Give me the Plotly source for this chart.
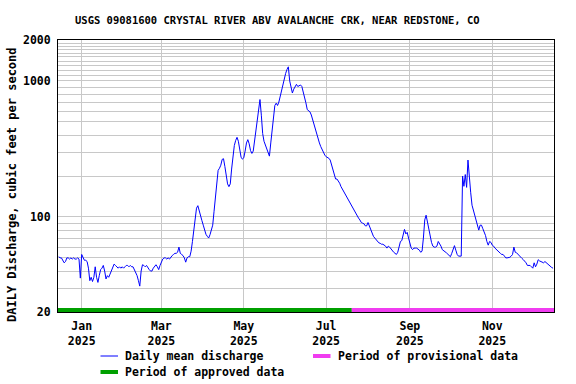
import plotly.graph_objects as go
import pandas as pd

# ---------------- data ----------------
start_date = "2024-12-15"
discharge_cfs = [
    51, 50, 50, 48, 46, 47, 50, 50, 49, 50, 49, 50, 49, 49, 50, 49, 35.5, 53, 50, 48,
    48, 47, 42, 34, 36, 33.5, 36, 43, 36, 33, 37, 41, 42, 44, 40, 35, 37, 36, 38, 40,
    43, 45, 44, 43, 42, 43, 42, 43, 42, 43, 44, 44, 43, 44, 43, 43, 41, 38, 37, 34,
    31, 40, 44.5, 44, 43, 44, 42, 41, 40, 40, 42, 43, 44.5, 43, 41, 44, 47, 49, 50, 50,
    49, 50, 49, 51, 52, 53, 54, 54, 55, 60, 54, 53, 52, 50, 46.5, 50, 51, 51, 56, 66,
    80, 93, 116, 121, 110, 99, 94, 87, 80, 74.5, 72, 70, 74, 80, 87, 110, 136, 187, 220, 228,
    240, 265, 268, 235, 200, 175, 167, 175, 225, 285, 335, 365, 385, 360, 300, 275, 266, 272, 305, 350,
    370, 345, 308, 293, 305, 362, 434, 503, 629, 730, 560, 410, 360, 338, 315, 300, 280, 350, 420, 530,
    660, 686, 660, 700, 780, 855, 950, 1070, 1135, 1215, 1270, 1000, 880, 815, 870, 905, 944, 910, 920, 934,
    910, 840, 750, 690, 615, 602, 593, 562, 517, 474, 434, 406, 378, 350, 329, 311, 293, 285, 277, 273,
    270, 262, 240, 220, 198, 190, 190, 185, 177, 167, 160, 154, 147, 141, 136, 131, 125, 120, 115, 110,
    106, 102, 98, 95, 91, 90, 89, 86, 86, 91, 85, 80, 77, 72, 70, 68, 66, 64.5, 64, 63,
    63, 62, 61, 59, 61, 60, 58, 57, 55, 54, 53, 55, 60, 66, 67, 76, 81, 75, 77, 70,
    63, 59, 57.5, 59, 59, 59, 58, 57, 55, 56, 70, 95, 103, 92, 78, 71, 65, 61, 60, 60,
    61, 66, 64, 61, 57.5, 56, 55.5, 54.5, 53, 51.5, 51, 54, 59, 61.5, 57, 53, 51.5, 51.5, 51.5, 200,
    168, 205, 165, 262, 181, 152, 122, 112, 103, 92, 85, 80, 87, 87, 82, 77, 73, 66, 62, 66,
    65, 62, 61, 59, 57.5, 56, 55.5, 54, 53, 53, 51.5, 50, 50, 50, 50.5, 51.5, 53, 60, 55, 54.5,
    53, 51.5, 50, 49.5, 48.5, 47.5, 46, 44, 44, 44, 43, 42, 46, 43, 45, 48.5, 47.5, 47, 46, 46,
    47, 46, 45.5, 44, 43, 42.5, 42,
]
dates = pd.date_range(start_date, periods=len(discharge_cfs), freq="D")

axis_start = "2024-12-14 10:48"
axis_end = "2025-12-16 16:48"
approved_end = "2025-07-20"

x_tick_dates = ["2025-01-01", "2025-03-01", "2025-05-01", "2025-07-01", "2025-09-01", "2025-11-01"]
x_tick_labels = ["Jan<br>2025", "Mar<br>2025", "May<br>2025", "Jul<br>2025", "Sep<br>2025", "Nov<br>2025"]

y_grid_values = [20, 30, 40, 50, 60, 70, 80, 90,
                 100, 200, 300, 400, 500, 600, 700, 800, 900,
                 1000, 1100, 1200, 1300, 1400, 1500, 1600, 1700, 1800, 1900, 2000]
y_labelled = {20: "20", 100: "100", 1000: "1000", 2000: "2000"}

title_text = "USGS 09081600 CRYSTAL RIVER ABV AVALANCHE CRK, NEAR REDSTONE, CO"
y_title = "DAILY Discharge, cubic feet per second"
legend_items = ["Daily mean discharge", "Period of provisional data", "Period of approved data"]

# ---------------- style ----------------
FONT = "DejaVu Sans Mono"
FS = 11.5
BLUE = "#0000ff"
GREEN = "#00a000"
MAGENTA = "#f03cf0"
GRID = "#c8c8c8"

W, H = 576, 384
ML, MR, MT, MB = 58, 22, 40, 72
PW, PH = W - ML - MR, H - MT - MB

fig = go.Figure()
fig.add_trace(go.Scatter(x=dates, y=discharge_cfs, mode="lines",
                         line=dict(color=BLUE, width=1), showlegend=False,
                         name=legend_items[0]))

# approval status bars along the bottom
bar_h = 4 / PH
fig.add_shape(type="rect", xref="x", yref="paper", x0=axis_start, x1=approved_end,
              y0=0, y1=bar_h, fillcolor=GREEN, line_width=0, layer="above")
fig.add_shape(type="rect", xref="x", yref="paper", x0=approved_end, x1=axis_end,
              y0=0, y1=bar_h, fillcolor=MAGENTA, line_width=0, layer="above")


def b(t):
    return "<b>" + t + "</b>"


def px_x(px):
    return (px - ML) / PW


def px_y(py):
    return 1 - (py - MT) / PH


fig.update_layout(
    width=W, height=H,
    margin=dict(l=ML, r=MR, t=MT, b=MB),
    paper_bgcolor="white", plot_bgcolor="white",
    font=dict(family=FONT, size=FS, color="black"),
    showlegend=False,
)

fig.update_xaxes(
    range=[axis_start, axis_end], type="date",
    tickvals=x_tick_dates, ticktext=[b(t) for t in x_tick_labels],
    showgrid=True, gridcolor=GRID, gridwidth=1,
    showline=True, linecolor="black", linewidth=1, mirror=True,
    ticks="", ticklabelstandoff=3, tickfont=dict(family=FONT, size=FS), zeroline=False,
)
fig.update_yaxes(
    type="log", range=[1.30103, 3.30103],
    tickvals=y_grid_values,
    ticktext=[b(y_labelled[v]) if v in y_labelled else "" for v in y_grid_values],
    showgrid=True, gridcolor=GRID, gridwidth=1,
    showline=True, linecolor="black", linewidth=1, mirror=True,
    ticks="", ticklabelstandoff=4, tickfont=dict(family=FONT, size=FS), zeroline=False,
)

# title
fig.add_annotation(text=b(title_text), xref="paper", yref="paper",
                   x=px_x(277), y=px_y(20), xanchor="center", yanchor="middle",
                   showarrow=False, font=dict(family=FONT, size=10.5))

# y-axis title
fig.add_annotation(text=b(y_title), xref="paper", yref="paper",
                   x=px_x(12), y=px_y(185),
                   xanchor="center", yanchor="middle", textangle=-90, showarrow=False,
                   font=dict(family=FONT, size=12))

# legend (drawn manually)
legend_rows = [
    (legend_items[0], BLUE, 1, 100.5, 356),
    (legend_items[1], MAGENTA, 4, 313, 356),
    (legend_items[2], GREEN, 4, 100.5, 372),
]
for label, color, lw, x0, y0 in legend_rows:
    fig.add_shape(type="line", xref="paper", yref="paper",
                  x0=px_x(x0), x1=px_x(x0 + 17.5), y0=px_y(y0), y1=px_y(y0),
                  line=dict(color=color, width=lw))
    fig.add_annotation(text=b(label), xref="paper", yref="paper",
                       x=px_x(x0 + 22.5), y=px_y(y0), xanchor="left", yanchor="middle",
                       showarrow=False, font=dict(family=FONT, size=FS))

fig.write_html("out.html", config={"displayModeBar": False},
               post_script="document.body.style.margin='0';")
